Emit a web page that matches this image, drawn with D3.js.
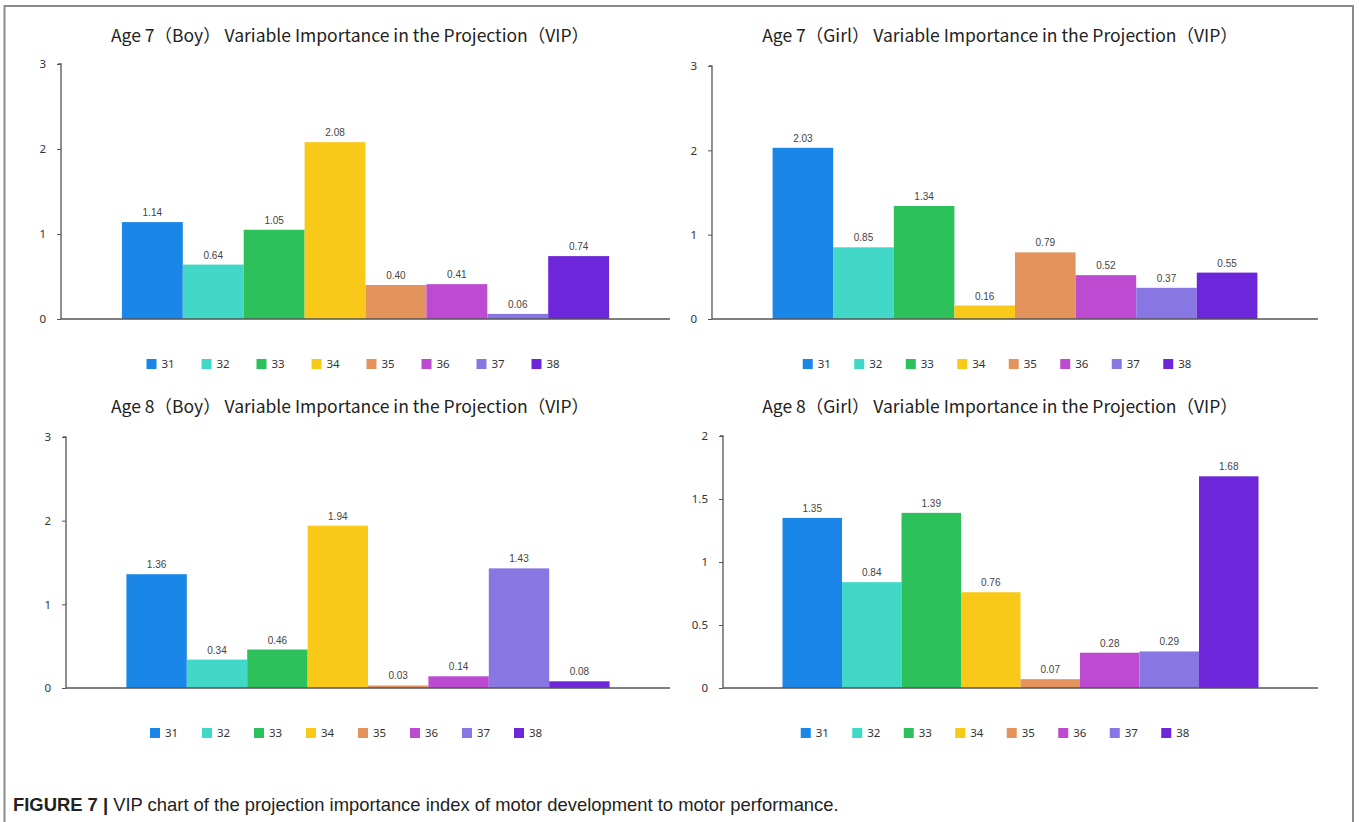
<!DOCTYPE html>
<html lang="en">
<head>
<meta charset="utf-8">
<title>VIP chart</title>
<script src="https://cdn.jsdelivr.net/npm/d3@7"></script>
<style>
  body { margin: 0; background: #fff; }
  svg { display: block; }
  .tick text { font-family: "Noto Sans", sans-serif; font-size: 11.5px; fill: #333; }
  .lbl { font-family: "Liberation Sans", Arial, sans-serif; font-size: 10px; fill: #444; }
  .ttl { font-family: "Noto Sans CJK SC", "Noto Sans", sans-serif; font-size: 17.5px; fill: #222; }
  .leg { font-family: "Noto Sans", sans-serif; font-size: 11.5px; fill: #333; }
</style>
</head>
<body>
<script>
// variables (legend + bar order)
const categories = ["31", "32", "33", "34", "35", "36", "37", "38"];
const colors = ["#1a86e8", "#42d8c7", "#2cc15a", "#f8c918", "#e4935c", "#bd4bd1", "#8877e2", "#6d26d9"];

const titles = [
  "Age 7（Boy） Variable Importance in the Projection（VIP）",
  "Age 7（Girl） Variable Importance in the Projection（VIP）",
  "Age 8（Boy） Variable Importance in the Projection（VIP）",
  "Age 8（Girl） Variable Importance in the Projection（VIP）"
];

const age7Boy  = [1.14, 0.64, 1.05, 2.08, 0.40, 0.41, 0.06, 0.74];
const age7Girl = [2.03, 0.85, 1.34, 0.16, 0.79, 0.52, 0.37, 0.55];
const age8Boy  = [1.36, 0.34, 0.46, 1.94, 0.03, 0.14, 1.43, 0.08];
const age8Girl = [1.35, 0.84, 1.39, 0.76, 0.07, 0.28, 0.29, 1.68];

const ticksA = [0, 1, 2, 3];
const ticksB = [0, 0.5, 1, 1.5, 2];

const series = [age7Boy, age7Girl, age8Boy, age8Girl];
const tickSets = [ticksA, ticksA, ticksA, ticksB];

// where each panel sits on the page
const layout = [
  {x0: 61,  x1: 670,  yTop: 64,  y0: 319, titleX: 350,  titleY: 42,  legX: 352, legY: 364, legStep: 55},
  {x0: 712, x1: 1318, yTop: 66,  y0: 319, titleX: 1000, titleY: 42,  legX: 996, legY: 364, legStep: 51.5},
  {x0: 66,  x1: 670,  yTop: 437, y0: 688, titleX: 350,  titleY: 413, legX: 345, legY: 733, legStep: 52},
  {x0: 723, x1: 1318, yTop: 436, y0: 688, titleX: 1000, titleY: 413, legX: 994, legY: 733, legStep: 51.5}
];

const w = 1359, h = 822;
const svg = d3.select("body").append("svg").attr("width", w).attr("height", h);

// frame round the figure (open at the bottom)
svg.append("path")
  .attr("d", "M4.5,822 V6 H1353 V822")
  .attr("fill", "none")
  .attr("stroke", "#8a8a8a")
  .attr("stroke-width", 2);

series.forEach(function(vals, p) {
  const L = layout[p];
  const ticks = tickSets[p];
  const g = svg.append("g");

  const x = d3.scaleBand()
    .domain(categories)
    .range([L.x0, L.x1])
    .paddingInner(0)
    .paddingOuter(1);

  const y = d3.scaleLinear()
    .domain([0, d3.max(ticks)])
    .range([L.y0, L.yTop]);

  // bars
  g.selectAll("rect.bar")
    .data(vals)
    .enter()
    .append("rect")
    .attr("class", "bar")
    .attr("x", function(d, i) { return x(categories[i]); })
    .attr("width", x.bandwidth())
    .attr("y", function(d) { return y(d); })
    .attr("height", function(d) { return L.y0 - y(d); })
    .attr("fill", function(d, i) { return colors[i]; });

  // value labels
  g.selectAll("text.lbl")
    .data(vals)
    .enter()
    .append("text")
    .attr("class", "lbl")
    .attr("x", function(d, i) { return x(categories[i]) + x.bandwidth() / 2; })
    .attr("y", function(d) { return y(d) - 6; })
    .attr("text-anchor", "middle")
    .text(function(d) { return d.toFixed(2); });

  // y axis
  const yAxis = g.append("g")
    .attr("transform", "translate(" + L.x0 + ",0)")
    .call(d3.axisLeft(y).tickValues(ticks).tickSize(4).tickPadding(11).tickFormat(d3.format("")));
  yAxis.select(".domain").attr("stroke", "#555").attr("stroke-width", 1.3).attr("d", "M-3," + L.yTop + "H0V" + L.y0);
  yAxis.selectAll(".tick line").attr("stroke", "#555");

  // x baseline
  g.append("line")
    .attr("x1", L.x0).attr("x2", L.x1)
    .attr("y1", L.y0).attr("y2", L.y0)
    .attr("stroke", "#555")
    .attr("stroke-width", 1.5);

  // title
  g.append("text")
    .attr("class", "ttl")
    .attr("x", L.titleX)
    .attr("y", L.titleY)
    .attr("text-anchor", "middle")
    .text(titles[p]);

  // legend
  const legStart = L.legX - L.legStep * 3.5 - 8;
  const leg = g.selectAll("g.leg")
    .data(categories)
    .enter()
    .append("g")
    .attr("transform", function(d, i) { return "translate(" + (legStart + i * L.legStep) + "," + L.legY + ")"; });
  leg.append("rect")
    .attr("x", -5).attr("y", -5)
    .attr("width", 10).attr("height", 10)
    .attr("fill", function(d, i) { return colors[i]; });
  leg.append("text")
    .attr("class", "leg")
    .attr("x", 10)
    .attr("y", 4)
    .text(function(d) { return d; });
});

// caption
const cap = svg.append("text")
  .attr("x", 13)
  .attr("y", 811)
  .attr("font-family", "'Liberation Sans', Arial, sans-serif")
  .attr("font-size", 18.4)
  .attr("fill", "#222");
cap.append("tspan").attr("font-weight", "bold").text("FIGURE 7 | ");
cap.append("tspan").text("VIP chart of the projection importance index of motor development to motor performance.");
</script>
</body>
</html>
